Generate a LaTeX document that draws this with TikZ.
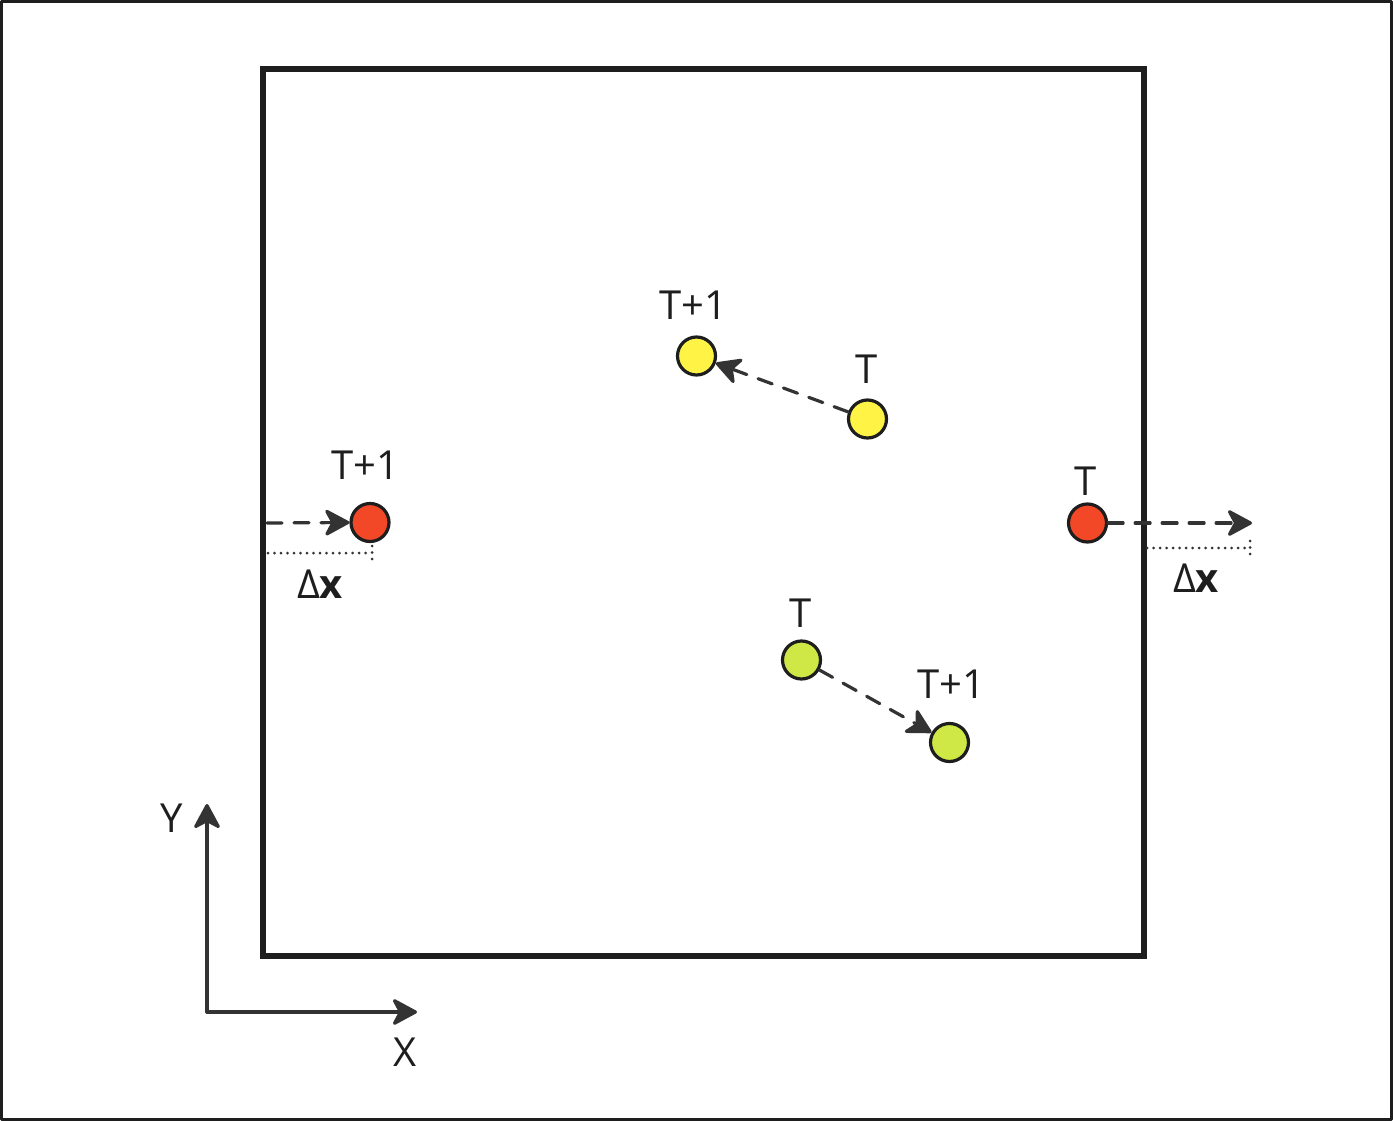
\documentclass[tikz,border=0pt]{standalone}
\usepackage{fontspec}
\setmainfont{Open Sans}
\usetikzlibrary{arrows.meta,positioning}
\definecolor{boxInk}{HTML}{1E1E1E}
\definecolor{arrowInk}{HTML}{333333}
\definecolor{ptRed}{HTML}{F24827}
\definecolor{ptYellow}{HTML}{FFF445}
\definecolor{ptGreen}{HTML}{CFE845}

\begin{document}
\begin{tikzpicture}[x=1pt,y=-1pt,>={Stealth[length=28pt,width=30pt,inset=8pt,round]},line cap=round,line join=round]
\useasboundingbox (0,0) rectangle (1393,1121);
\path[fill=white] (0,0) rectangle (1393,1121);
\draw[draw=boxInk,line width=3pt] (1.5,1.5) rectangle (1391.5,1119.5);
\tikzset{particle/.style={circle,draw=boxInk,line width=3.2pt,minimum size=38pt,inner sep=0pt},lbl/.style={text=boxInk,font=\fontsize{40}{48}\selectfont,inner sep=0pt},motion/.style={->,draw=arrowInk,line width=3.2pt,dash pattern=on 15pt off 12pt},gapline/.style={draw=arrowInk,line width=3pt,dash pattern=on 0pt off 6.5pt},axisline/.style={->,draw=arrowInk,line width=3.2pt}}
% periodic box
\draw[draw=boxInk,line width=6pt,line cap=butt,line join=miter] (263,69) rectangle (1144,956);
% particles
\node[particle,fill=ptRed] (redNew) at (370,522.5) {}; \node[particle,fill=ptRed] (redOld) at (1087.5,523) {};
\node[particle,fill=ptYellow] (yelNew) at (696.5,356) {}; \node[particle,fill=ptYellow] (yelOld) at (867.5,419) {};
\node[particle,fill=ptGreen] (grnOld) at (801.5,660) {}; \node[particle,fill=ptGreen] (grnNew) at (949.5,742.5) {};
\node[lbl] (redNewT) at (365,465) {T+1}; \node[lbl] (redOldT) at (1086,481) {T};
\node[lbl] (yelNewT) at (693,305) {T+1}; \node[lbl] (yelOldT) at (867,369) {T};
\node[lbl] (grnOldT) at (801,613) {T}; \node[lbl] (grnNewT) at (951,684) {T+1};
% moves
\coordinate (redIn) at (267,523); \coordinate (redOut) at (1252,523);
\draw[motion] (redIn) -- (redNew.west);
\draw[motion] (redOld.east) -- (redOut);
\draw[motion] (yelOld) -- (yelNew);
\draw[motion] (grnOld) -- (grnNew);
% displacement
\coordinate (dxLa) at (268,553); \coordinate (dxLb) at (372,553); \coordinate (dxLc) at (372,546); \coordinate (dxLd) at (372,561);
\coordinate (dxRa) at (1147,548); \coordinate (dxRb) at (1250,548); \coordinate (dxRc) at (1250,541); \coordinate (dxRd) at (1250,556);
\draw[gapline] (dxLa) -- (dxLb); \draw[gapline] (dxLc) -- (dxLd);
\draw[gapline] (dxRa) -- (dxRb); \draw[gapline] (dxRc) -- (dxRd);
\node[lbl] (dxL) at (320,584) {Δ\textbf{x}}; \node[lbl] (dxR) at (1196,578) {Δ\textbf{x}};
% axes
\coordinate (orig) at (207,1012); \coordinate (yTip) at (207,804); \coordinate (xTip) at (417,1012);
\draw[axisline] (orig) -- (yTip); \draw[axisline] (orig) -- (xTip);
\node[lbl] (yName) at (172,818) {Y}; \node[lbl] (xName) at (405,1052) {X};
\end{tikzpicture}
\end{document}
